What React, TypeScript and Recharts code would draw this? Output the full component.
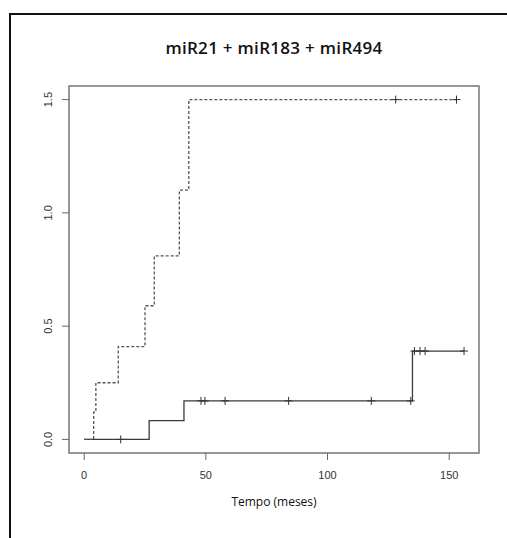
import React from 'react';
import { LineChart, Line, XAxis, YAxis, ReferenceArea } from 'recharts';

// cumulative hazard, group with dashed line
const dashedTimes = [0, 3.9, 4.8, 14, 25, 28.8, 39.1, 43, 128, 153];
const dashedHazard = [0, 0.12, 0.25, 0.41, 0.59, 0.81, 1.1, 1.5, 1.5, 1.5];
const dashedCensored = [false, false, false, false, false, false, false, false, true, true];

// group with solid line
const solidTimes = [0, 15, 26.7, 41, 48, 49.6, 57.9, 84, 118, 134.2, 134.9, 135.7, 138, 140.1, 156.1];
const solidHazard = [0, 0, 0.083, 0.17, 0.17, 0.17, 0.17, 0.17, 0.17, 0.17, 0.39, 0.39, 0.39, 0.39, 0.39];
const solidCensored = [false, true, false, false, true, true, true, true, true, true, false, true, true, true, true];

const xTicks = [0, 50, 100, 150];
const yTicks = [0, 0.5, 1, 1.5];

const build = (t: number[], h: number[], c: boolean[]) =>
  t.map((time, i) => ({ time, hazard: h[i], c: c[i] }));

const dashedData = build(dashedTimes, dashedHazard, dashedCensored);
const solidData = build(solidTimes, solidHazard, solidCensored);

const CensorMark = (props: any) => {
  const { cx, cy, payload, index } = props;
  if (!payload || !payload.c) return <g key={`n-${index}`} />;
  return (
    <path
      key={`c-${index}`}
      d={`M${cx - 4},${cy}h8M${cx},${cy - 4}v8`}
      stroke="#333"
      strokeWidth={1}
      strokeDasharray="none"
      fill="none"
    />
  );
};

const XTick = (props: any) => {
  const { x, payload } = props;
  return (
    <text x={x} y={479} textAnchor="middle" fontSize={11} fill="#333"
      fontFamily="'Liberation Sans', Arial, sans-serif">
      {payload.value}
    </text>
  );
};

const YTick = (props: any) => {
  const { y, payload } = props;
  const cx = 48;
  return (
    <text x={cx} y={y} textAnchor="middle" dominantBaseline="central" fontSize={11} fill="#333"
      fontFamily="'Liberation Sans', Arial, sans-serif"
      transform={`rotate(-90, ${cx}, ${y})`}>
      {Number(payload.value).toFixed(1)}
    </text>
  );
};

export default function App() {
  return (
    <div style={{ position: 'absolute', left: 0, top: 0, width: 507, height: 538, background: '#fff', overflow: 'hidden' }}>
      <div style={{ position: 'absolute', left: 9, top: 13, width: 560, height: 600, borderTop: '2px solid #111', borderLeft: '2px solid #111' }} />
      <div style={{ position: 'absolute', left: 74, top: 37, width: 400, textAlign: 'center', lineHeight: '22px',
        fontFamily: "'Open Sans', sans-serif", fontWeight: 600, fontSize: 17, letterSpacing: 0.3, color: '#111', whiteSpace: 'nowrap' }}>
        miR21 + miR183 + miR494
      </div>
      <div style={{ position: 'absolute', left: 74, top: 494, width: 400, textAlign: 'center', lineHeight: '16px',
        fontFamily: "'Open Sans', sans-serif", fontSize: 12, color: '#111', whiteSpace: 'nowrap' }}>
        Tempo (meses)
      </div>
      <div style={{ position: 'absolute', left: 0, top: 0 }}>
        <LineChart width={507} height={538} margin={{ top: 86, right: 28, left: 0, bottom: 0 }}>
          <XAxis
            dataKey="time"
            type="number"
            domain={[-6.24, 162.24]}
            ticks={xTicks}
            allowDataOverflow
            height={85}
            axisLine={false}
            tickSize={7}
            tickLine={{ stroke: '#666' }}
            tick={<XTick />}
          />
          <YAxis
            type="number"
            domain={[-0.06, 1.56]}
            ticks={yTicks}
            allowDataOverflow
            width={69}
            axisLine={false}
            tickSize={7}
            tickLine={{ stroke: '#666' }}
            tick={<YTick />}
          />
          <ReferenceArea x1={-6.24} x2={162.24} y1={-0.06} y2={1.56} fill="none" stroke="#777" strokeWidth={1.5} />
          <Line
            data={solidData}
            dataKey="hazard"
            type="stepAfter"
            stroke="#3a3a3a"
            strokeWidth={1.3}
            dot={CensorMark}
            activeDot={false}
            isAnimationActive={false}
          />
          <Line
            data={dashedData}
            dataKey="hazard"
            type="stepAfter"
            stroke="#555"
            strokeWidth={1.3}
            strokeDasharray="3 2"
            dot={CensorMark}
            activeDot={false}
            isAnimationActive={false}
          />
        </LineChart>
      </div>
    </div>
  );
}
